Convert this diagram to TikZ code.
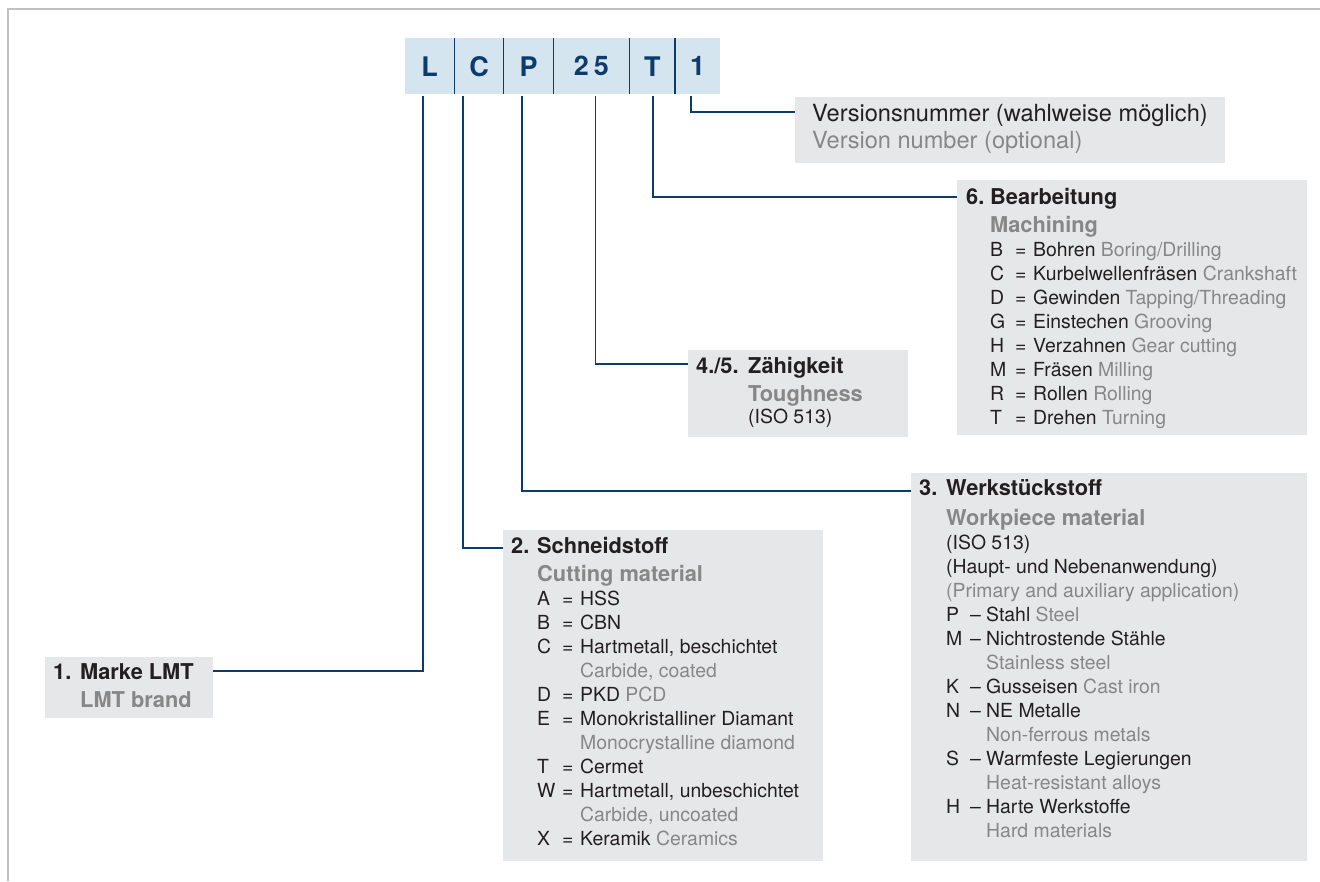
\documentclass[tikz,border=0pt]{standalone}
\usepackage{fontspec}
\setmainfont{TeX Gyre Heros}
\usetikzlibrary{positioning}

\definecolor{lmtblue}{HTML}{0D3B6E}
\definecolor{codebg}{HTML}{D5E5F0}
\definecolor{boxbg}{HTML}{E6E7E8}
\definecolor{txtgray}{HTML}{878787}
\definecolor{txtblack}{HTML}{231F20}
\definecolor{framegray}{HTML}{C0C0C0}

\newcommand{\hfont}{\fontsize{21.8}{26}\selectfont\bfseries}
\newcommand{\en}[1]{\textcolor{txtgray}{#1}}
\newcommand{\entitle}[1]{{\hfont\color{txtgray}#1}}
\newcommand{\codeeq}[2]{\makebox[25pt][l]{#1}\makebox[18pt][l]{=}#2}
\newcommand{\codedash}[2]{\makebox[24pt][l]{#1}\makebox[16pt][l]{--}#2}
\newcommand{\eqcont}[1]{\hspace*{43pt}\en{#1}}
\newcommand{\dashcont}[1]{\hspace*{40pt}\en{#1}}

\tikzset{
  every node/.style={
    font=\fontsize{19.4}{24}\selectfont,
    text=txtblack
  },
  cell/.style={
    fill=codebg,
    minimum height=56pt,
    inner sep=0pt,
    text=lmtblue,
    font=\fontsize{27}{30}\selectfont\bfseries
  },
  infobox/.style={
    fill=boxbg,
    anchor=north west,
    inner sep=0pt
  },
  boxtext/.style={
    anchor=base west,
    inner sep=0pt
  },
  leader/.style={
    draw=lmtblue,
    line width=1.7pt
  },
  divider/.style={
    draw=lmtblue,
    line width=1.2pt
  },
  frame/.style={
    draw=framegray,
    line width=1.7pt
  }
}

\begin{document}
\begin{tikzpicture}[x=1pt,y=-1pt]
  \useasboundingbox (0,0) rectangle (1320,881);
  \draw[frame] (1320,9) -- (8,9) -- (8,881);

  % type code
  \node [cell, minimum width=49pt, anchor=north west] (cL) at (405,38) {L};
  \node [cell, minimum width=49pt, right=0pt of cL] (cC) {C};
  \node [cell, minimum width=49pt, right=0pt of cC] (cP) {P};
  \node [cell, minimum width=76pt, right=0pt of cP] (c25) {2\hspace{5pt}5};
  \node [cell, minimum width=45pt, right=0pt of c25] (cT) {T};
  \node [cell, minimum width=45pt, right=0pt of cT] (c1) {1};
  \draw [divider] (cL.north east) -- (cL.south east)
    (cC.north east) -- (cC.south east)
    (cP.north east) -- (cP.south east)
    (c25.north east) -- (c25.south east)
    (cT.north east) -- (cT.south east);

  % info boxes
  \node [infobox, minimum width=430pt, minimum height=66pt] (version) at (795,97) {};
  \node [boxtext, font=\fontsize{23.6}{27}\selectfont] (versiontext) at (812,121) {%
    \begin{tabular}[t]{@{}l@{}}
      Versionsnummer (wahlweise möglich)\\
      \en{Version number (optional)}
    \end{tabular}};

  \node [infobox, minimum width=350pt, minimum height=255pt] (machining) at (957,180) {};
  \node [boxtext] (machiningtext) at (966,204) {%
    \begin{tabular}[t]{@{}p{24pt}@{}l@{}}
      \hfont 6. & \hfont Bearbeitung\\[4pt]
      & \entitle{Machining}\\
      & \codeeq{B}{Bohren \en{Boring/Drilling}}\\
      & \codeeq{C}{Kurbelwellenfräsen \en{Crankshaft}}\\
      & \codeeq{D}{Gewinden \en{Tapping/Threading}}\\
      & \codeeq{G}{Einstechen \en{Grooving}}\\
      & \codeeq{H}{Verzahnen \en{Gear cutting}}\\
      & \codeeq{M}{Fräsen \en{Milling}}\\
      & \codeeq{R}{Rollen \en{Rolling}}\\
      & \codeeq{T}{Drehen \en{Turning}}
    \end{tabular}};

  \node [infobox, minimum width=220pt, minimum height=87pt] (toughness) at (688,350) {};
  \node [boxtext] (toughnesstext) at (696,373) {%
    \begin{tabular}[t]{@{}p{52pt}@{}l@{}}
      \hfont 4./5. & \hfont Zähigkeit\\[4pt]
      & \entitle{Toughness}\\[-2pt]
      & (ISO 513)
    \end{tabular}};

  \node [infobox, minimum width=396pt, minimum height=388pt] (workpiece) at (911,473) {};
  \node [boxtext] (workpiecetext) at (919,495) {%
    \begin{tabular}[t]{@{}p{27pt}@{}l@{}}
      \hfont 3. & \hfont Werkstückstoff\\[6pt]
      & \entitle{Workpiece material}\\
      & (ISO 513)\\
      & (Haupt- und Nebenanwendung)\\
      & \en{(Primary and auxiliary application)}\\
      & \codedash{P}{Stahl \en{Steel}}\\
      & \codedash{M}{Nichtrostende Stähle}\\
      & \dashcont{Stainless steel}\\
      & \codedash{K}{Gusseisen \en{Cast iron}}\\
      & \codedash{N}{NE Metalle}\\
      & \dashcont{Non-ferrous metals}\\
      & \codedash{S}{Warmfeste Legierungen}\\
      & \dashcont{Heat-resistant alloys}\\
      & \codedash{H}{Harte Werkstoffe}\\
      & \dashcont{Hard materials}
    \end{tabular}};

  \node [infobox, minimum width=320pt, minimum height=331pt] (cutting) at (503,530) {};
  \node [boxtext] (cuttingtext) at (511,553) {%
    \begin{tabular}[t]{@{}p{26pt}@{}l@{}}
      \hfont 2. & \hfont Schneidstoff\\[4pt]
      & \entitle{Cutting material}\\
      & \codeeq{A}{HSS}\\
      & \codeeq{B}{CBN}\\
      & \codeeq{C}{Hartmetall, beschichtet}\\
      & \eqcont{Carbide, coated}\\
      & \codeeq{D}{PKD \en{PCD}}\\
      & \codeeq{E}{Monokristalliner Diamant}\\
      & \eqcont{Monocrystalline diamond}\\
      & \codeeq{T}{Cermet}\\
      & \codeeq{W}{Hartmetall, unbeschichtet}\\
      & \eqcont{Carbide, uncoated}\\
      & \codeeq{X}{Keramik \en{Ceramics}}
    \end{tabular}};

  \node [infobox, minimum width=168pt, minimum height=61pt] (brand) at (45,657) {};
  \node [boxtext] (brandtext) at (53,679) {%
    \begin{tabular}[t]{@{}p{27pt}@{}l@{}}
      \hfont 1. & \hfont Marke LMT\\[4pt]
      & \entitle{LMT brand}
    \end{tabular}};

  % leaders
  \draw [leader] ([xshift=-6.5pt,yshift=-2pt]cL.south) |- ([yshift=-14pt]brand.north east);
  \draw [leader] ([xshift=-16pt,yshift=-2pt]cC.south) |- ([yshift=-18pt]cutting.north west);
  \draw [leader] ([xshift=-6.5pt,yshift=-2pt]cP.south) |- ([yshift=-18pt]workpiece.north west);
  \draw [leader] ([xshift=4pt,yshift=-2pt]c25.south) |- ([yshift=-14pt]toughness.north west);
  \draw [leader] ([xshift=1pt,yshift=-2pt]cT.south) |- ([yshift=-17pt]machining.north west);
  \draw [leader] ([xshift=-6.5pt,yshift=-2pt]c1.south) |- ([yshift=-15pt]version.north west);
\end{tikzpicture}
\end{document}
